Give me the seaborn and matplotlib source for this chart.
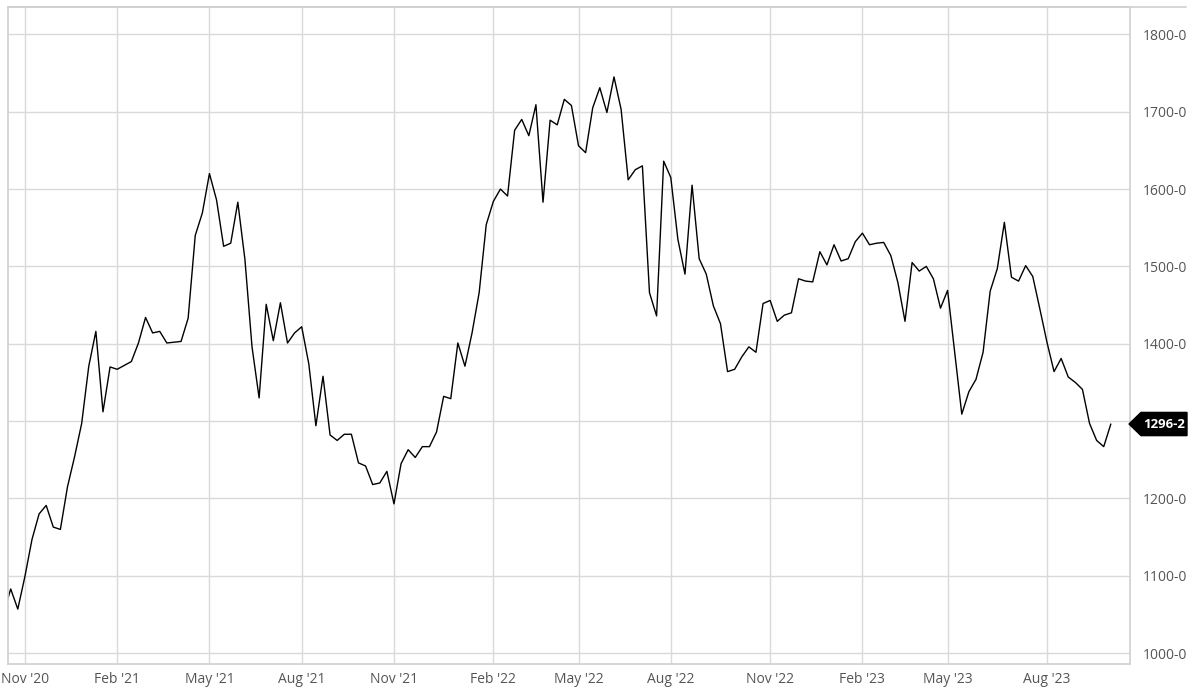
import numpy as np
import pandas as pd
import seaborn as sns
import matplotlib.pyplot as plt
from matplotlib.lines import Line2D
from matplotlib.patches import Polygon
import matplotlib.transforms as mtransforms

# weekly closes (Mondays), first point sits just off the left edge
start_date = '2020-10-12'
prices = [
    1052, 1083, 1057, 1099, 1147, 1180, 1191, 1163, 1160, 1215, 1254, 1297, 1371, 1416,
    1312, 1370, 1367, 1372, 1377, 1401, 1434, 1414, 1416, 1401, 1402, 1403, 1433,
    1540, 1569, 1620, 1586, 1526, 1530, 1583, 1509, 1396, 1330, 1451, 1404, 1453,
    1401, 1414, 1422, 1374, 1294, 1358, 1282, 1275, 1283, 1283, 1246, 1242, 1218,
    1220, 1235, 1193, 1245, 1263, 1253, 1267, 1267, 1286, 1332, 1329, 1401, 1371,
    1414, 1466, 1554, 1584, 1600, 1591, 1676, 1690, 1669, 1709, 1583, 1689, 1683,
    1716, 1708, 1656, 1647, 1705, 1731, 1699, 1745, 1703, 1612, 1625, 1630, 1466,
    1436, 1636, 1615, 1535, 1490, 1605, 1510, 1490, 1449, 1426, 1364, 1367, 1383,
    1396, 1389, 1452, 1456, 1429, 1437, 1440, 1484, 1481, 1480, 1519, 1502, 1528,
    1507, 1510, 1532, 1543, 1528, 1530, 1531, 1514, 1479, 1429, 1505, 1494, 1500,
    1484, 1446, 1469, 1389, 1309, 1338, 1354, 1389, 1468, 1497, 1557, 1486, 1481,
    1501, 1487, 1445, 1402, 1364, 1381, 1357, 1350, 1341, 1297, 1275, 1267, 1296.25,
]
y_ticks = [1000, 1100, 1200, 1300, 1400, 1500, 1600, 1700, 1800]
tick_months = [2, 5, 8, 11]

dates = pd.date_range(start_date, periods=len(prices), freq='7D')
df = pd.DataFrame({'date': dates, 'price': prices})
df['idx'] = np.arange(len(df)) - 1


def fmt_price(v):
    whole = int(np.floor(v))
    eighths = int(round((v - whole) * 8))
    return f"{whole}-{eighths}"


# first week of Feb/May/Aug/Nov gets a tick
new_month = df['date'].dt.month != df['date'].shift().dt.month
ticks = df[new_month & df['date'].dt.month.isin(tick_months) & (df['idx'] >= 0)]

last = prices[-1]

sns.set_style('white')
plt.rcParams['font.family'] = ['Open Sans', 'DejaVu Sans']

fig = plt.figure(figsize=(12, 6.96), dpi=100)
ax = fig.add_axes([8 / 1200, 1 - 664 / 696, 1122 / 1200, 657.5 / 696])

sns.lineplot(data=df, x='idx', y='price', color='black', linewidth=1.0, ax=ax)

ax.set_xlim(-0.38, 157.7)
ax.set_ylim(986, 1836)
ax.set_xticks(ticks['idx'])
ax.set_xticklabels([d.strftime("%b '%y") for d in ticks['date']])
ax.set_yticks(y_ticks)
# the price tag covers the label nearest the last close
ax.set_yticklabels(['' if abs(v - last) < 30 else fmt_price(v) for v in y_ticks])
ax.yaxis.tick_right()
ax.set_xlabel('')
ax.set_ylabel('')

ax.grid(True, color='#d9d9d9', linewidth=1.0)
ax.tick_params(axis='both', length=0, labelsize=10, colors='#555555')
ax.tick_params(axis='y', pad=9.5)
ax.tick_params(axis='x', pad=6)
for side in ['left', 'right', 'top', 'bottom']:
    ax.spines[side].set_visible(True)
    ax.spines[side].set_color('#d0d0d0')
    ax.spines[side].set_linewidth(1.2)

# top rule runs past the plot, over the price column
fig.add_artist(Line2D([8 / 1200, 1186 / 1200], [1 - 6.5 / 696] * 2,
                      color='#d0d0d0', linewidth=1.2))

# last price tag: pentagon pointing at the last close
trans = mtransforms.blended_transform_factory(ax.transAxes, ax.transData)
half = 15
tag = Polygon([[0.9991, last], [1.0098, last + half], [1.0508, last + half],
               [1.0508, last - half], [1.0098, last - half]],
              closed=True, transform=trans, facecolor='black', edgecolor='black',
              clip_on=False, zorder=5)
ax.add_patch(tag)
ax.text(1.0300, last, fmt_price(last), transform=trans, ha='center', va='center',
        color='white', fontsize=9.5, fontweight='bold', clip_on=False, zorder=6)

fig.savefig('out.png', dpi=100)
